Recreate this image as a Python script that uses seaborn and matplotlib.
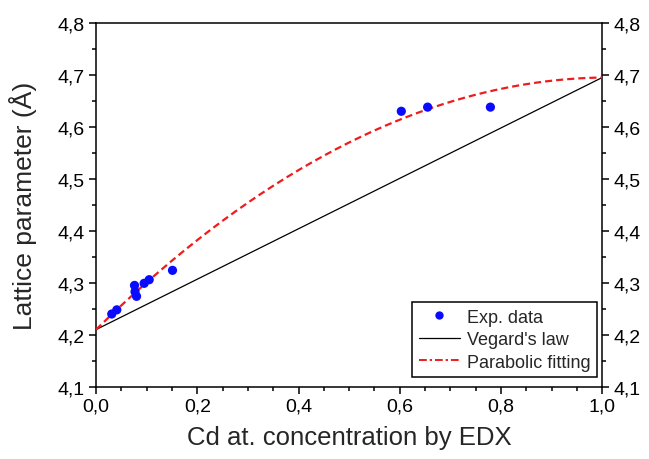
import numpy as np
import pandas as pd
import matplotlib
matplotlib.use("Agg")
import matplotlib.pyplot as plt
import seaborn as sns
from matplotlib.lines import Line2D
from matplotlib.ticker import MultipleLocator, FuncFormatter

# Experimental data
cd_conc = [0.031, 0.041, 0.076, 0.077, 0.080, 0.095, 0.105, 0.151, 0.603, 0.655, 0.779]
lattice = [4.240, 4.248, 4.295, 4.283, 4.274, 4.299, 4.306, 4.324, 4.630, 4.638, 4.638]

# Vegard's law end members and parabolic fit bowing parameter
a_start = 4.21
a_end = 4.695
bowing = 0.47

legend_labels = ["Exp. data", "Vegard's law", "Parabolic fitting"]

sns.set_theme(style="ticks")
plt.rcParams['font.family'] = ['Liberation Sans', 'DejaVu Sans']

fig = plt.figure(figsize=(6.49, 4.60), dpi=100)
ax = fig.add_axes([0.148, 0.157, 0.780, 0.791])

xs = np.linspace(0, 1, 200)
veg = a_start * (1 - xs) + a_end * xs
par = veg + bowing * xs * (1 - xs)

df_exp = pd.DataFrame({"x": cd_conc, "a": lattice})
df_fit = pd.DataFrame({"x": xs, "veg": veg, "par": par})

red = "#ee1c1c"
blue = "#0a0aff"
sns.lineplot(data=df_fit, x="x", y="veg", ax=ax, color="black", lw=0.9, zorder=2)
sns.lineplot(data=df_fit, x="x", y="par", ax=ax, color=red, lw=1.6,
             linestyle=(0, (3.2, 1.8)), zorder=3)
sns.scatterplot(data=df_exp, x="x", y="a", ax=ax, color=blue, s=44,
                edgecolor="none", zorder=4)

ax.set_xlim(0, 1.0)
ax.set_ylim(4.1, 4.8)
comma = FuncFormatter(lambda v, p: f"{v:.1f}".replace(".", ","))
ax.xaxis.set_major_locator(MultipleLocator(0.2))
ax.xaxis.set_minor_locator(MultipleLocator(0.05))
ax.yaxis.set_major_locator(MultipleLocator(0.1))
ax.yaxis.set_minor_locator(MultipleLocator(0.05))
ax.xaxis.set_major_formatter(comma)
ax.yaxis.set_major_formatter(comma)

for s in ax.spines.values():
    s.set_visible(True)
    s.set_linewidth(1.1)
    s.set_color("black")

ax.tick_params(axis="both", which="major", direction="out", length=5, width=1.1,
               labelsize=14, colors="black", pad=3)
ax.tick_params(axis="both", which="minor", direction="out", length=3, width=1.1, colors="black")
ax.tick_params(axis="y", which="both", left=True, right=True, labelleft=True, labelright=True)
ax.tick_params(axis="x", which="both", bottom=True, top=False)

ax.set_xlabel("Cd at. concentration by EDX", fontsize=18.5, labelpad=7)
ax.set_ylabel("Lattice parameter (Å)", fontsize=19, labelpad=15)

handles = [
    Line2D([], [], ls="none", marker="o", ms=6, color=blue, mec="none"),
    Line2D([], [], color="black", lw=0.9),
    Line2D([], [], color=red, lw=1.4, ls=(0, (4, 1.5, 1.2, 1.5))),
]
leg = ax.legend(handles, legend_labels, loc="lower right",
                bbox_to_anchor=(0.99, 0.027), borderaxespad=0,
                fontsize=13, frameon=True, fancybox=False, edgecolor="black",
                framealpha=1, handlelength=2.3, handletextpad=0.4,
                labelspacing=0.3, borderpad=0.35)
leg.get_frame().set_linewidth(1.1)

fig.savefig("out.png", dpi=100)
